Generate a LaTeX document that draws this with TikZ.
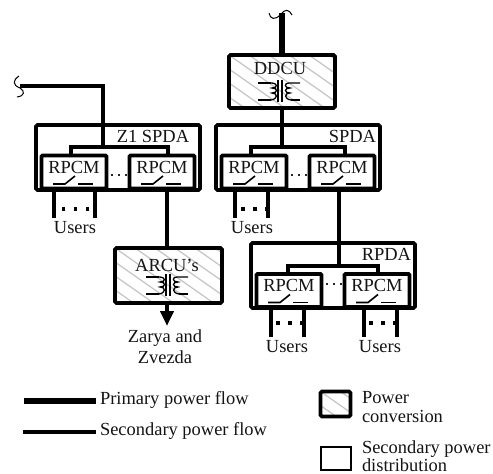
\documentclass[tikz,border=0pt]{standalone}
\usepackage{fontspec}
\setmainfont{Liberation Serif}
\usetikzlibrary{arrows.meta,calc}
\tikzset{
  x=1pt,y=-1pt,
  every node/.style={inner sep=0pt,outer sep=0pt,font=\fontsize{18.45}{20}\selectfont,text=black!92},
  pflow/.style={line width=6.4pt},
  sflow/.style={line width=4.4pt},
  wire/.style={line width=4pt},
  wave/.style={line width=1pt},
  spdabox/.style={draw,line width=3.8pt,rounded corners=1.5pt,minimum width=#1,minimum height=65pt},
  spdabox/.default=164pt,
  rpcmbox/.style={draw,line width=3.6pt,rounded corners=1pt,minimum width=65pt,minimum height=33pt},
  hatchbox/.style={draw,line width=3.8pt,rounded corners=1.5pt,minimum width=#1,
    path picture={
      \foreach \d in {-120,-100,...,120}
        \draw[black!22,line width=1.3pt]
          ($(path picture bounding box.north west)+(\d,0)$) -- ++(150,105);
    }},
  sw/.pic={
    \draw[line width=1.6pt] (-21,0) -- (-9,0) -- (1,-8);
    \draw[line width=1.6pt] (4,0) -- (19,0);
  },
  xfmr/.pic={
    \draw[line width=1.6pt] (-23,-8) -- (-10,-8);
    \draw[line width=2.6pt] (-23,9) -- (-10,9);
    \draw[line width=1.3pt] (-10,-8) .. controls (-3,-8) and (-3,-3) .. (-9,-3)
       .. controls (-3,-3) and (-3,2) .. (-9,2) .. controls (-3,2) and (-3,8) .. (-10,9);
    \draw[line width=1.3pt] (-3,-11) -- (-3,11) (1,-11) -- (1,11);
    \draw[line width=1.3pt] (19,-8) -- (8,-8) .. controls (3,-8) and (3,-3) .. (9,-3)
       .. controls (3,-3) and (3,2) .. (9,2) .. controls (3,2) and (3,8) .. (10,9);
    \draw[line width=2.6pt] (10,9) -- (19,9);
  },
}
\newcommand{\udots}[2]{\foreach \k in {0,12,24}{\fill ({#1+\k-1.6},{#2-1.6}) rectangle ++(3.2,3.2);}}
\newcommand{\sdots}[2]{\foreach \k in {0,7,14}{\fill[black!85] ({#1+\k-.9},{#2-.9}) rectangle ++(1.8,1.8);}}
\begin{document}
\begin{tikzpicture}
\useasboundingbox (0,0) rectangle (493,474);
% main boxes
\node[spdabox] (z1) at (118,157.5) {};
\node[spdabox] (spda) at (298,157.5) {};
\node[spdabox] (rpda) at (333,275.5) {};
\node[hatchbox=106pt,minimum height=53pt] (ddcu) at (282,81.5) {};
\node[hatchbox=107pt,minimum height=55pt] (arcu) at (168.5,275.5) {};
% RPCM boxes
\node[rpcmbox] (r1) at (74,172) {};
\node[rpcmbox] (r2) at (162,172) {};
\node[rpcmbox] (r3) at (254,172) {};
\node[rpcmbox] (r4) at (342,172) {};
\node[rpcmbox] (r5) at (289,290.5) {};
\node[rpcmbox] (r6) at (377,290.5) {};
\foreach \r in {r1,r2,r3,r4,r5,r6}{
  \node at ($(\r)+(0,-5)$) {RPCM};
  \pic at ($(\r)+(0,12)$) {sw};
}
% labels
\node at (153,136) {Z1 SPDA};
\node[anchor=east] at (376,136) {SPDA};
\node[anchor=east] at (411,254) {RPDA};
\node at (280,68) {DDCU};
\node at (167,265) {ARCU's};
\pic at (281,91) {xfmr};
\pic at (169,285) {xfmr};
% free ends
\coordinate (w1) at (20,86);
\coordinate (t1) at (103,86);
\coordinate (w2) at (282,13);
\coordinate (z1bus) at (103,147);
\coordinate (spbus) at (282,147);
\coordinate (rpbus) at (339,266);
\coordinate (u1a) at (54,218); \coordinate (u1b) at (95,218);
\coordinate (u2a) at (235,218); \coordinate (u2b) at (268,218);
\coordinate (u3a) at (271,337); \coordinate (u3b) at (304,337);
\coordinate (u4a) at (364,337); \coordinate (u4b) at (397,337);
\coordinate (arrowend) at (167,326);
% primary and feeds
\draw[sflow] (w1) -- (t1) -- (z1bus);
\draw[pflow] (w2) -- (ddcu.north);
\draw[wire] (ddcu.south) -- (spbus);
% buses
\draw[wire] (r1.north -| 71,0) -- (71,147) -- (168,147) -- (r2.north -| 168,0);
\draw[wire] (r3.north -| 251,0) -- (251,147) -- (345,147) -- (r4.north -| 345,0);
\draw[wire] (r5.north -| 288,0) -- (288,266) -- (378,266) -- (r6.north -| 378,0);
\draw[wire] (r4.south -| 339,0) -- (rpda.north -| 339,0) -- (rpbus);
% user feeds
\draw[wire] (r1.south -| u1a) -- (u1a);
\draw[wire] (r1.south -| u1b) -- (u1b);
\draw[wire] (r3.south -| u2a) -- (u2a);
\draw[wire] (r3.south -| u2b) -- (u2b);
\draw[wire] (r5.south -| u3a) -- (u3a);
\draw[wire] (r5.south -| u3b) -- (u3b);
\draw[wire] (r6.south -| u4a) -- (u4a);
\draw[wire] (r6.south -| u4b) -- (u4b);
\draw[wire] (r2.south -| 167,0) -- (arcu.north -| 167,0);
\draw[wire,-{Triangle[length=15pt,width=13pt]}] (arcu.south -| 167,0) -- (arrowend);
% dots
\udots{63.5}{209}
\udots{243}{209}
\udots{278}{323}
\udots{371}{323}
\sdots{112}{175}
\sdots{292}{175}
\sdots{327}{284}
% wave ends
\draw[wave] (19,76) .. controls (13,80) and (12,85) .. (20,88)
  .. controls (25,91) and (25,96) .. (17,97);
\draw[wave] (269,13) .. controls (270,19) and (275,21) .. (281,14)
  .. controls (285,9) and (289,9) .. (292,15);
% text
\node at (75,228) {Users};
\node at (252,228) {Users};
\node at (287,347) {Users};
\node at (380,347) {Users};
\node at (165,338) {Zarya and};
\node at (165,357) {Zvezda};
% legend
\coordinate (lp1) at (24,401); \coordinate (lp2) at (96,401);
\coordinate (ls1) at (23,432); \coordinate (ls2) at (96,432);
\draw[pflow] (lp1) -- (lp2);
\draw[sflow] (ls1) -- (ls2);
\node[anchor=west] (tp) at (100,400) {Primary power flow};
\node[anchor=west] (ts) at (100,431) {Secondary power flow};
\node[hatchbox=30pt,minimum height=25pt] (lg1) at (335.5,404) {};
\node[draw,line width=1.8pt,minimum width=30pt,minimum height=23pt] (lg2) at (336,458.5) {};
\node[anchor=west] at (362,398) {Power};
\node[anchor=west] at (362,416) {conversion};
\node[anchor=west] at (362,449) {Secondary power};
\node[anchor=west] at (362,465.5) {distribution};
\end{tikzpicture}
\end{document}
